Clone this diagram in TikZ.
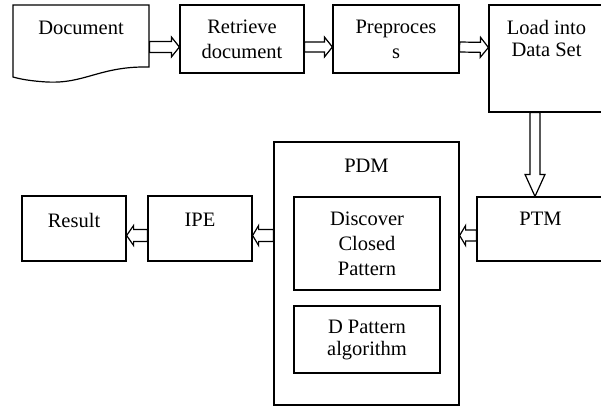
\documentclass[tikz,border=0pt]{standalone}
\usepackage{fontspec}
\setmainfont{Liberation Serif}
\usetikzlibrary{calc}
\tikzset{
  box/.style={draw, line width=1.2pt, align=center, inner sep=0pt, font=\fontsize{20.5}{25}\selectfont},
  toptext/.style={anchor=north, inner sep=0pt, align=center, font=\fontsize{20.5}{22}\selectfont},
  fatarrow/.style={draw, line width=1.2pt, fill=white, line join=miter}
}
\newcommand{\blockarrow}[5]{%
  \path (#1) coordinate (ba-s) (#2) coordinate (ba-e);
  \path ($(ba-e)!#5!(ba-s)$) coordinate (ba-h);
  \draw[fatarrow] ($(ba-s)!#3!90:(ba-e)$) -- ($(ba-h)!#3!90:(ba-e)$) -- ($(ba-h)!#4!90:(ba-e)$) -- (ba-e)
    -- ($(ba-h)!#4!-90:(ba-e)$) -- ($(ba-h)!#3!-90:(ba-e)$) -- ($(ba-s)!#3!-90:(ba-e)$) -- cycle;
}
\begin{document}
\begin{tikzpicture}[x=1pt, y=-1pt]
\useasboundingbox (0,0) rectangle (601,406);
\clip (0,0) rectangle (601,406);
\draw[line width=1.2pt] (13,5) -- (149,5) -- (149,67) .. controls (100,66) and (85,84) .. (47,82) .. controls (30,81) and (20,79) .. (13,77) -- cycle;
\node[box, draw=none, minimum width=136pt, minimum height=68pt, label={[toptext, yshift=-16.5pt]north:Document}] (doc) at (81,39) {};
\node[box, minimum width=124pt, minimum height=68pt] (ret) at (242,39) {Retrieve\\document};
\node[box, minimum width=126pt, minimum height=68pt] (pre) at (396,39) {Preproces\\s};
\node[box, minimum width=115pt, minimum height=107pt, label={[toptext, yshift=-16pt]north:Load into\\Data Set}] (load) at (546.5,58.5) {};
\node[box, minimum width=127pt, minimum height=64pt, label={[toptext, yshift=-15.5pt]north:PTM}] (ptm) at (540.5,229) {};
\node[box, minimum width=185pt, minimum height=263pt, label={[toptext, yshift=-17.5pt]north:PDM}] (pdm) at (366.5,273.5) {};
\node[box, minimum width=146pt, minimum height=93pt] (disc) at (367,243.5) {Discover\\Closed\\Pattern};
\node[box, minimum width=146pt, minimum height=67pt, font=\fontsize{20.5}{22}\selectfont] (dpat) at (367,339.5) {D Pattern\\algorithm};
\node[box, minimum width=104pt, minimum height=65pt, label={[toptext, yshift=-17.5pt]north:IPE}] (ipe) at (200,228.5) {};
\node[box, minimum width=104pt, minimum height=65pt, label={[toptext, yshift=-17.5pt]north:Result}] (res) at (74,228.5) {};
\blockarrow{[yshift=-8pt]doc.east}{[yshift=-8pt]ret.west}{5.5pt}{10pt}{8pt}
\blockarrow{[yshift=-8pt]ret.east}{[yshift=-8pt]pre.west}{5pt}{10pt}{8pt}
\blockarrow{[yshift=-8pt]pre.east}{[yshift=11pt]load.west}{5pt}{10pt}{8pt}
\blockarrow{[xshift=-11.5pt]load.south}{[xshift=-5.5pt]ptm.north}{5pt}{10pt}{22pt}
\blockarrow{[yshift=-6.5pt]ptm.west}{[yshift=38pt]pdm.east}{5.5pt}{10pt}{6pt}
\blockarrow{[yshift=38pt]pdm.west}{[yshift=-7pt]ipe.east}{6pt}{10pt}{6pt}
\blockarrow{[yshift=-7pt]ipe.west}{[yshift=-7pt]res.east}{6pt}{10pt}{7pt}
\end{tikzpicture}
\end{document}
